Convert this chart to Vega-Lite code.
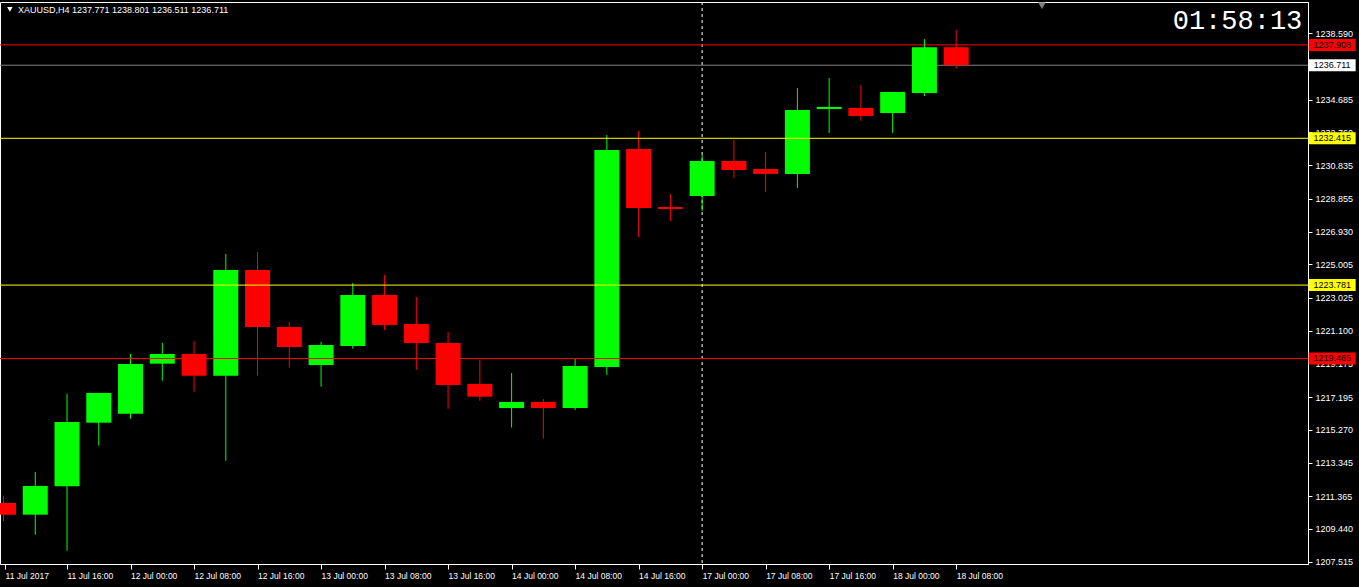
{
  "$schema": "https://vega.github.io/schema/vega-lite/v6.json",
  "width": 1308,
  "height": 562,
  "autosize": {"type": "none"},
  "padding": {"left": 0, "top": 2, "right": 51, "bottom": 23},
  "background": "#000000",
  "config": {
    "view": {"stroke": "#ffffff", "fill": "#000000", "strokeWidth": 1},
    "font": "Liberation Sans",
    "axis": {"grid": false, "title": null, "domainColor": "#ffffff", "tickColor": "#ffffff", "labelColor": "#ffffff", "labelFont": "Liberation Sans", "domainWidth": 1, "tickWidth": 1, "labelOverlap": false, "labelSeparation": 0},
    "axisY": {"labelOverlap": false, "tickCount": 40},
    "axisX": {"labelOverlap": false, "tickCount": 40}
  },
  "datasets": {
    "candles": [
      {"i": 0, "t": "11 Jul 08:00", "open": 1210.97, "high": 1211.40, "low": 1209.90, "close": 1210.28},
      {"i": 1, "t": "11 Jul 12:00", "open": 1210.28, "high": 1212.79, "low": 1209.10, "close": 1211.97},
      {"i": 2, "t": "11 Jul 16:00", "open": 1211.95, "high": 1217.38, "low": 1208.16, "close": 1215.73},
      {"i": 3, "t": "11 Jul 20:00", "open": 1215.69, "high": 1217.44, "low": 1214.34, "close": 1217.44},
      {"i": 4, "t": "12 Jul 00:00", "open": 1216.22, "high": 1219.73, "low": 1215.92, "close": 1219.14},
      {"i": 5, "t": "12 Jul 04:00", "open": 1219.16, "high": 1220.38, "low": 1218.16, "close": 1219.73},
      {"i": 6, "t": "12 Jul 08:00", "open": 1219.73, "high": 1220.49, "low": 1217.51, "close": 1218.45},
      {"i": 7, "t": "12 Jul 12:00", "open": 1218.45, "high": 1225.61, "low": 1213.45, "close": 1224.67},
      {"i": 8, "t": "12 Jul 16:00", "open": 1224.67, "high": 1225.73, "low": 1218.45, "close": 1221.32},
      {"i": 9, "t": "12 Jul 20:00", "open": 1221.32, "high": 1221.61, "low": 1218.92, "close": 1220.14},
      {"i": 10, "t": "13 Jul 00:00", "open": 1219.08, "high": 1220.44, "low": 1217.81, "close": 1220.26},
      {"i": 11, "t": "13 Jul 04:00", "open": 1220.20, "high": 1223.91, "low": 1220.04, "close": 1223.20},
      {"i": 12, "t": "13 Jul 08:00", "open": 1223.20, "high": 1224.38, "low": 1221.14, "close": 1221.44},
      {"i": 13, "t": "13 Jul 12:00", "open": 1221.49, "high": 1223.08, "low": 1218.81, "close": 1220.38},
      {"i": 14, "t": "13 Jul 16:00", "open": 1220.38, "high": 1221.02, "low": 1216.51, "close": 1217.91},
      {"i": 15, "t": "13 Jul 20:00", "open": 1217.97, "high": 1219.38, "low": 1216.98, "close": 1217.22},
      {"i": 16, "t": "14 Jul 00:00", "open": 1216.55, "high": 1218.61, "low": 1215.40, "close": 1216.91},
      {"i": 17, "t": "14 Jul 04:00", "open": 1216.91, "high": 1217.08, "low": 1214.75, "close": 1216.55},
      {"i": 18, "t": "14 Jul 08:00", "open": 1216.55, "high": 1219.44, "low": 1216.44, "close": 1219.02},
      {"i": 19, "t": "14 Jul 12:00", "open": 1218.97, "high": 1232.61, "low": 1218.49, "close": 1231.73},
      {"i": 20, "t": "14 Jul 16:00", "open": 1231.79, "high": 1232.84, "low": 1226.61, "close": 1228.32},
      {"i": 21, "t": "14 Jul 20:00", "open": 1228.37, "high": 1229.14, "low": 1227.55, "close": 1228.26},
      {"i": 22, "t": "17 Jul 00:00", "open": 1229.02, "high": 1231.43, "low": 1228.14, "close": 1231.08},
      {"i": 23, "t": "17 Jul 04:00", "open": 1231.08, "high": 1232.32, "low": 1230.08, "close": 1230.55},
      {"i": 24, "t": "17 Jul 08:00", "open": 1230.61, "high": 1231.61, "low": 1229.26, "close": 1230.32},
      {"i": 25, "t": "17 Jul 12:00", "open": 1230.32, "high": 1235.37, "low": 1229.49, "close": 1234.08},
      {"i": 26, "t": "17 Jul 16:00", "open": 1234.14, "high": 1235.96, "low": 1232.73, "close": 1234.26},
      {"i": 27, "t": "17 Jul 20:00", "open": 1234.20, "high": 1235.55, "low": 1233.43, "close": 1233.73},
      {"i": 28, "t": "18 Jul 00:00", "open": 1233.90, "high": 1235.14, "low": 1232.73, "close": 1235.14},
      {"i": 29, "t": "18 Jul 04:00", "open": 1235.08, "high": 1238.25, "low": 1234.90, "close": 1237.77},
      {"i": 30, "t": "18 Jul 08:00", "open": 1237.771, "high": 1238.801, "low": 1236.511, "close": 1236.711}
    ],
    "marketLines": [
      {"price": 1237.908, "kind": "ask"},
      {"price": 1236.711, "kind": "bid"}
    ],
    "userLines": [
      {"price": 1232.415, "kind": "level"},
      {"price": 1223.781, "kind": "level"},
      {"price": 1219.465, "kind": "alert"}
    ],
    "tags": [
      {"price": 1237.908, "kind": "ask"},
      {"price": 1236.711, "kind": "bid"},
      {"price": 1232.415, "kind": "level"},
      {"price": 1223.781, "kind": "level"},
      {"price": 1219.465, "kind": "alert"}
    ],
    "header": [{"text": "XAUUSD,H4  1237.771 1238.801 1236.511 1236.711"}],
    "clock": [{"text": "01:58:13"}],
    "marker": [{"name": "separator"}]
  },
  "layer": [
    {
      "data": {"name": "marker"},
      "mark": {"type": "rule", "color": "#ffffff", "strokeWidth": 1, "strokeDash": [3, 3]},
      "encoding": {
        "x": {"datum": 22, "type": "quantitative", "scale": {"domain": [0.046875, 40.921875], "nice": false, "zero": false}}
      }
    },
    {
      "data": {"name": "marketLines"},
      "mark": {"type": "rule", "strokeWidth": 1},
      "encoding": {
        "y": {"field": "price", "type": "quantitative", "scale": {"domain": [1207.379, 1240.43], "nice": false, "zero": false}},
        "color": {"condition": {"test": "datum.kind == 'bid'", "value": "#808080"}, "value": "#ff0000"}
      }
    },
    {
      "data": {"name": "candles"},
      "mark": {"type": "rule", "clip": true, "strokeWidth": 1},
      "encoding": {
        "x": {"field": "i", "type": "quantitative", "scale": {"domain": [0.046875, 40.921875], "nice": false, "zero": false},
          "axis": {"orient": "bottom", "title": null, "tickCount": 40, "values": [0.05, 2, 4, 6, 8, 10, 12, 14, 16, 18, 20, 22, 24, 26, 28, 30],
            "labelExpr": "{'0.05':'11 Jul 2017','2':'11 Jul 16:00','4':'12 Jul 00:00','6':'12 Jul 08:00','8':'12 Jul 16:00','10':'13 Jul 00:00','12':'13 Jul 08:00','14':'13 Jul 16:00','16':'14 Jul 00:00','18':'14 Jul 08:00','20':'14 Jul 16:00','22':'17 Jul 00:00','24':'17 Jul 08:00','26':'17 Jul 16:00','28':'18 Jul 00:00','30':'18 Jul 08:00'}[datum.value + '']",
            "labelAlign": "left", "labelDx": 2, "labelBaseline": "top", "labelPadding": 2, "tickSize": 5, "labelFontSize": 8.5, "labelOverlap": false, "labelFlush": false}},
        "y": {"field": "low", "type": "quantitative", "scale": {"domain": [1207.379, 1240.43], "nice": false, "zero": false},
          "axis": {"orient": "right", "title": null, "tickCount": 40, "values": [1207.515, 1209.44, 1211.365, 1213.345, 1215.27, 1217.195, 1219.175, 1221.1, 1223.025, 1225.005, 1226.93, 1228.855, 1230.835, 1232.76, 1234.685, 1236.665, 1238.59],
            "format": ".3f", "tickSize": 4, "labelPadding": 3, "labelFontSize": 9, "labelOverlap": false, "labelFlush": false, "labelBaseline": "middle"}},
        "y2": {"field": "high"},
        "color": {"condition": {"test": "datum.close > datum.open", "value": "#00ff00"}, "value": "#ff0000"}
      }
    },
    {
      "data": {"name": "candles"},
      "mark": {"type": "bar", "clip": true, "width": 25},
      "encoding": {
        "x": {"field": "i", "type": "quantitative", "scale": {"domain": [0.046875, 40.921875], "nice": false, "zero": false}},
        "y": {"field": "open", "type": "quantitative", "scale": {"domain": [1207.379, 1240.43], "nice": false, "zero": false}},
        "y2": {"field": "close"},
        "color": {"condition": {"test": "datum.close > datum.open", "value": "#00ff00"}, "value": "#ff0000"}
      }
    },
    {
      "data": {"name": "userLines"},
      "mark": {"type": "rule", "strokeWidth": 1},
      "encoding": {
        "y": {"field": "price", "type": "quantitative", "scale": {"domain": [1207.379, 1240.43], "nice": false, "zero": false}},
        "color": {"condition": {"test": "datum.kind == 'alert'", "value": "#ff0000"}, "value": "#ffff00"}
      }
    },
    {
      "data": {"name": "tags"},
      "mark": {"type": "tick", "orient": "vertical", "thickness": 47, "size": 12, "opacity": 1},
      "encoding": {
        "x": {"datum": 41.84, "type": "quantitative", "scale": {"domain": [0.046875, 40.921875], "nice": false, "zero": false}},
        "y": {"field": "price", "type": "quantitative", "scale": {"domain": [1207.379, 1240.43], "nice": false, "zero": false}},
        "color": {"condition": [{"test": "datum.kind == 'bid'", "value": "#ffffff"}, {"test": "datum.kind == 'level'", "value": "#ffff00"}], "value": "#ff0000"}
      }
    },
    {
      "data": {"name": "tags"},
      "mark": {"type": "text", "color": "#000000", "fontSize": 9, "align": "center", "baseline": "middle", "font": "Liberation Sans"},
      "encoding": {
        "x": {"datum": 41.84, "type": "quantitative", "scale": {"domain": [0.046875, 40.921875], "nice": false, "zero": false}},
        "y": {"field": "price", "type": "quantitative", "scale": {"domain": [1207.379, 1240.43], "nice": false, "zero": false}},
        "text": {"field": "price", "type": "quantitative", "format": ".3f"}
      }
    },
    {
      "data": {"name": "header"},
      "mark": {"type": "point", "shape": "triangle-down", "filled": true, "color": "#ffffff", "size": 30, "opacity": 1},
      "encoding": {
        "x": {"datum": 0.2, "type": "quantitative", "scale": {"domain": [0.046875, 40.921875], "nice": false, "zero": false}},
        "y": {"datum": 1239.99, "type": "quantitative", "scale": {"domain": [1207.379, 1240.43], "nice": false, "zero": false}}
      }
    },
    {
      "data": {"name": "header"},
      "mark": {"type": "text", "color": "#ffffff", "fontSize": 9, "align": "left", "baseline": "middle", "font": "Liberation Sans"},
      "encoding": {
        "x": {"datum": 0.453, "type": "quantitative", "scale": {"domain": [0.046875, 40.921875], "nice": false, "zero": false}},
        "y": {"datum": 1239.96, "type": "quantitative", "scale": {"domain": [1207.379, 1240.43], "nice": false, "zero": false}},
        "text": {"field": "text"}
      }
    },
    {
      "data": {"name": "marker"},
      "mark": {"type": "point", "shape": "triangle-down", "filled": true, "color": "#808080", "size": 60, "opacity": 1},
      "encoding": {
        "x": {"datum": 32.70, "type": "quantitative", "scale": {"domain": [0.046875, 40.921875], "nice": false, "zero": false}},
        "y": {"datum": 1240.22, "type": "quantitative", "scale": {"domain": [1207.379, 1240.43], "nice": false, "zero": false}}
      }
    },
    {
      "data": {"name": "clock"},
      "mark": {"type": "text", "color": "#ffffff", "fontSize": 27, "align": "right", "baseline": "middle", "font": "Liberation Mono"},
      "encoding": {
        "x": {"datum": 40.9, "type": "quantitative", "scale": {"domain": [0.046875, 40.921875], "nice": false, "zero": false}},
        "y": {"datum": 1239.31, "type": "quantitative", "scale": {"domain": [1207.379, 1240.43], "nice": false, "zero": false}},
        "text": {"field": "text"}
      }
    }
  ]
}
